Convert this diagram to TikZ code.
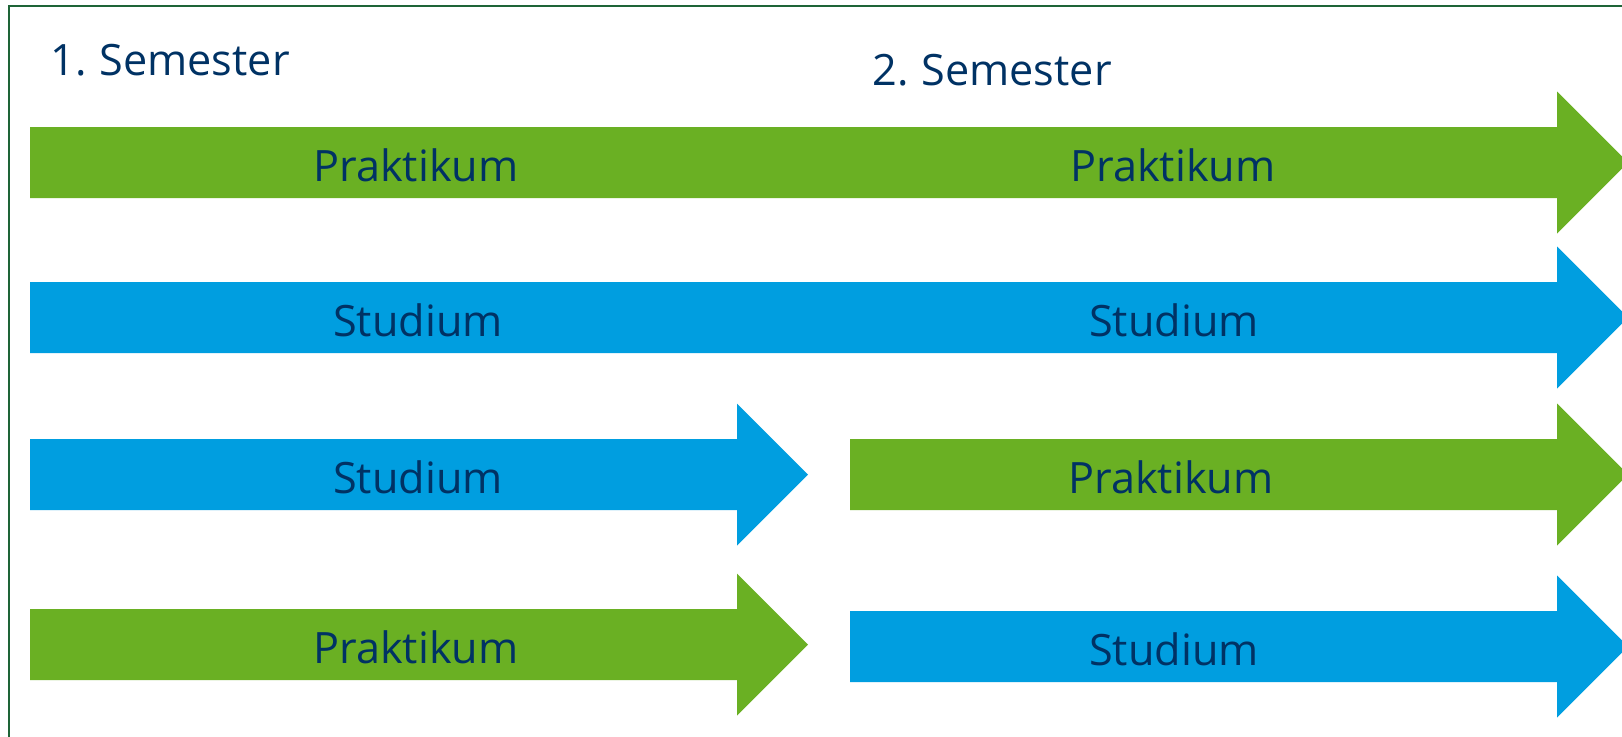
\documentclass[tikz,border=0pt]{standalone}
\usepackage{fontspec}
\setmainfont{Open Sans}
\usetikzlibrary{positioning}

\definecolor{praxisgruen}{RGB}{106,176,35}
\definecolor{studiumblau}{RGB}{0,158,224}
\definecolor{schriftblau}{RGB}{0,50,100}
\definecolor{rahmengruen}{RGB}{30,100,55}

\tikzset{
  beschriftung/.style = {inner sep = 0pt, anchor = base, text = schriftblau, font = \fontsize{21.6}{26}\selectfont},
  semester/.style = {beschriftung, anchor = base west}
}

% Pfeil: Farbe, Anfang, Beginn der Spitze, Mitte (y)
\newcommand{\pfeil}[4]{%
\fill[#1] (#2,#4-35.5) -- (#3,#4-35.5) -- (#3,#4-71) -- (#3+71,#4)
  -- (#3,#4+71) -- (#3,#4+35.5) -- (#2,#4+35.5) -- cycle;}

\begin{document}
\begin{tikzpicture}[x = 0.5pt, y = -0.5pt]
\clip (0,0) rectangle (1622,736);
\fill[white] (0,0) rectangle (1622,736);
\draw[rahmengruen, line width = 1pt] (9,6) rectangle (1660,780);

\node[semester] (sem1) at (50,75) {1.\kern-1pt{} Semester};
\node[semester] (sem2) at (872,85) {2.\kern-1pt{} Semester};

\pfeil{praxisgruen}{30}{1557}{162.5}
\pfeil{studiumblau}{30}{1557}{317.5}
\pfeil{studiumblau}{30}{737}{474.5}
\pfeil{praxisgruen}{850}{1557}{474.5}
\pfeil{praxisgruen}{30}{737}{644.5}
\pfeil{studiumblau}{850}{1557}{646.5}

\node[beschriftung] (p11) at (416,181.5) {Praktikum};
\node[beschriftung] (p12) at (1173,181.5) {Praktikum};
\node[beschriftung] (s21) at (418,336.5) {Studium};
\node[beschriftung] (s22) at (1174,336.5) {Studium};
\node[beschriftung] (s31) at (418,493.5) {Studium};
\node[beschriftung] (p32) at (1171,493.5) {Praktikum};
\node[beschriftung] (p41) at (416,663.5) {Praktikum};
\node[beschriftung] (s42) at (1174,665.5) {Studium};
\end{tikzpicture}
\end{document}
